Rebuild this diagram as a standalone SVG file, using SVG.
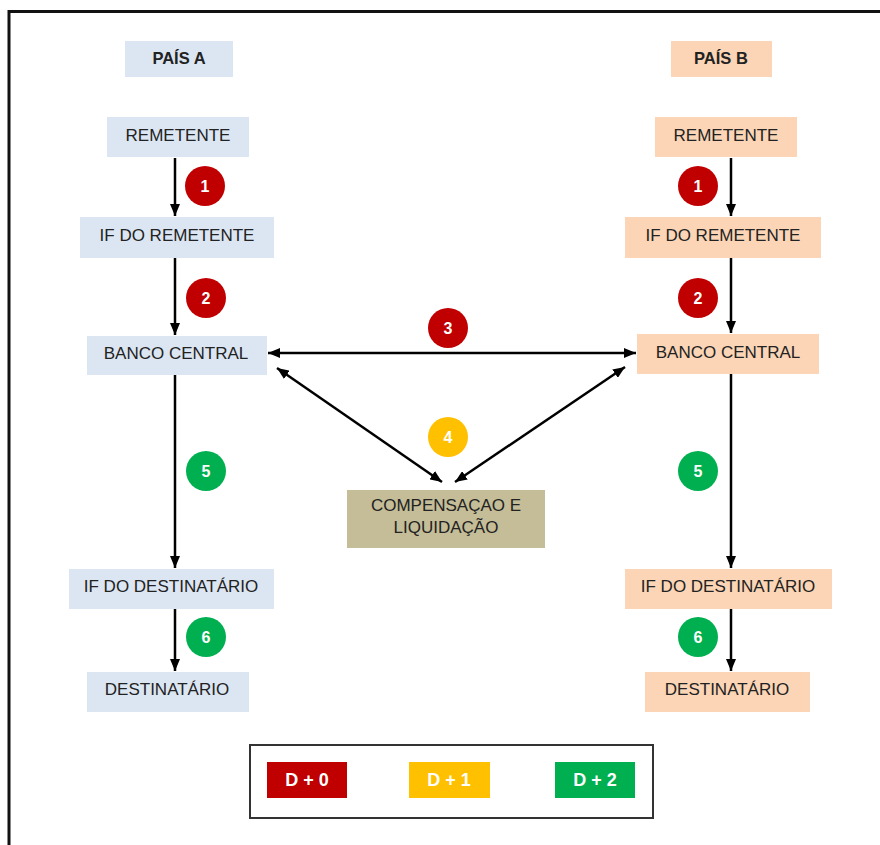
<svg xmlns="http://www.w3.org/2000/svg" width="880" height="845" viewBox="0 0 880 845">
<style>
.a{fill:#DCE6F2}
.b{fill:#FBD5B5}
.t{font-family:"Liberation Sans",Arial,sans-serif;font-size:17px;fill:#222;text-anchor:middle}
.h{font-family:"Liberation Sans",Arial,sans-serif;font-size:16.5px;font-weight:bold;fill:#222;text-anchor:middle}
.n{font-family:"Liberation Sans",Arial,sans-serif;font-size:16px;font-weight:bold;fill:#fff;text-anchor:middle}
.l{font-family:"Liberation Sans",Arial,sans-serif;font-size:18px;font-weight:bold;fill:#fff;text-anchor:middle}
.c{stroke:#000;stroke-width:2.5;fill:none}
.r{fill:#C00000}.y{fill:#FFC000}.g{fill:#00B050}
</style>
<defs>
<marker id="ah" viewBox="0 0 12 10" markerWidth="12" markerHeight="10" refX="12" refY="5" orient="auto-start-reverse" markerUnits="userSpaceOnUse">
<path d="M0,0 L12,5 L0,10 z" fill="#000"/>
</marker>
</defs>
<rect width="880" height="845" fill="#fff"/>
<path d="M9,845 V11.5 H880" fill="none" stroke="#111" stroke-width="3"/>

<g id="paisA"><rect class="a" x="125" y="41" width="108" height="36"/><text class="h" x="179" y="64">PAÍS A</text></g>
<g id="paisB"><rect class="b" x="671" y="41" width="101" height="36"/><text class="h" x="721" y="64">PAÍS B</text></g>

<g id="remA"><rect class="a" x="107" y="117" width="142" height="40"/><text class="t" x="178" y="141">REMETENTE</text></g>
<g id="ifremA"><rect class="a" x="80" y="217" width="194" height="41"/><text class="t" x="177" y="241">IF DO REMETENTE</text></g>
<g id="bcA"><rect class="a" x="87" y="336" width="180" height="39"/><text class="t" x="176" y="359">BANCO CENTRAL</text></g>
<g id="ifdestA"><rect class="a" x="69" y="569" width="205" height="40"/><text class="t" x="171" y="592">IF DO DESTINATÁRIO</text></g>
<g id="destA"><rect class="a" x="87" y="672" width="162" height="40"/><text class="t" x="167" y="695">DESTINATÁRIO</text></g>

<g id="remB"><rect class="b" x="655" y="117" width="142" height="40"/><text class="t" x="726" y="141">REMETENTE</text></g>
<g id="ifremB"><rect class="b" x="625" y="217" width="196" height="41"/><text class="t" x="723" y="241">IF DO REMETENTE</text></g>
<g id="bcB"><rect class="b" x="637" y="334" width="182" height="40"/><text class="t" x="728" y="358">BANCO CENTRAL</text></g>
<g id="ifdestB"><rect class="b" x="625" y="569" width="207" height="40"/><text class="t" x="728" y="592">IF DO DESTINATÁRIO</text></g>
<g id="destB"><rect class="b" x="645" y="672" width="165" height="40"/><text class="t" x="727" y="695">DESTINATÁRIO</text></g>

<g id="comp"><rect x="347" y="490" width="198" height="58" fill="#C4BD97"/><text class="t" x="446" y="511">COMPENSAÇAO E</text><text class="t" x="446" y="533">LIQUIDAÇÃO</text></g>

<g id="connectors">
<line class="c" x1="175" y1="158" x2="175" y2="216" marker-end="url(#ah)"/>
<line class="c" x1="175" y1="258" x2="175" y2="335" marker-end="url(#ah)"/>
<line class="c" x1="175" y1="375" x2="175" y2="568" marker-end="url(#ah)"/>
<line class="c" x1="175" y1="609" x2="175" y2="671" marker-end="url(#ah)"/>
<line class="c" x1="731" y1="158" x2="731" y2="216" marker-end="url(#ah)"/>
<line class="c" x1="731" y1="258" x2="731" y2="333" marker-end="url(#ah)"/>
<line class="c" x1="731" y1="374" x2="731" y2="568" marker-end="url(#ah)"/>
<line class="c" x1="731" y1="609" x2="731" y2="671" marker-end="url(#ah)"/>
<line class="c" x1="268" y1="353" x2="636" y2="353" marker-start="url(#ah)" marker-end="url(#ah)"/>
<line class="c" x1="277" y1="368" x2="442" y2="482" marker-start="url(#ah)" marker-end="url(#ah)"/>
<line class="c" x1="625" y1="367" x2="455" y2="482" marker-start="url(#ah)" marker-end="url(#ah)"/>
</g>

<g id="badges">
<circle class="r" cx="205" cy="186" r="20"/><text class="n" x="205" y="192">1</text>
<circle class="r" cx="206" cy="298" r="20"/><text class="n" x="206" y="304">2</text>
<circle class="g" cx="206" cy="471" r="20"/><text class="n" x="206" y="477">5</text>
<circle class="g" cx="206" cy="637" r="20"/><text class="n" x="206" y="643">6</text>
<circle class="r" cx="698" cy="186" r="20"/><text class="n" x="698" y="192">1</text>
<circle class="r" cx="698" cy="298" r="20"/><text class="n" x="698" y="304">2</text>
<circle class="g" cx="698" cy="471" r="20"/><text class="n" x="698" y="477">5</text>
<circle class="g" cx="698" cy="637" r="20"/><text class="n" x="698" y="643">6</text>
<circle class="r" cx="448" cy="328" r="20"/><text class="n" x="448" y="334">3</text>
<circle class="y" cx="448" cy="437" r="20"/><text class="n" x="448" y="443">4</text>
</g>

<g id="legend">
<rect x="250" y="745" width="403" height="73" fill="#fff" stroke="#333" stroke-width="2"/>
<rect class="r" x="267" y="762" width="80" height="36"/><text class="l" x="307" y="786">D + 0</text>
<rect class="y" x="409" y="762" width="81" height="36"/><text class="l" x="449" y="786">D + 1</text>
<rect class="g" x="555" y="762" width="80" height="36"/><text class="l" x="595" y="786">D + 2</text>
</g>
</svg>
